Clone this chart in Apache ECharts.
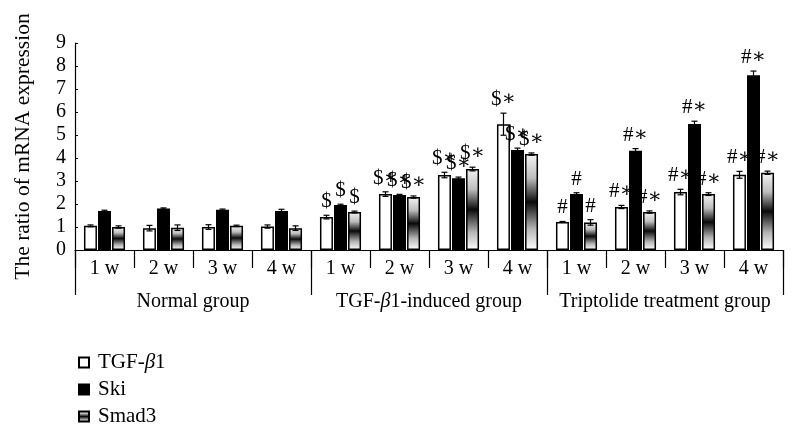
<!DOCTYPE html>
<html><head><meta charset="utf-8">
<script src="https://cdn.jsdelivr.net/npm/echarts@6/dist/echarts.min.js"></script>
<style>html,body{margin:0;padding:0;background:#fff}#c{width:797px;height:432px}</style>
</head><body><div id="c"></div>
<script>
var weeks = ['1 w','2 w','3 w','4 w','1 w','2 w','3 w','4 w','1 w','2 w','3 w','4 w'];
var groups = ['Normal group','TGF-β1-induced group','Triptolide treatment group'];
var seriesNames = ['TGF-β1','Ski','Smad3'];
var tgfVals  = [1.05,0.95,1.00,1.02, 1.43,2.43,3.26,5.47, 1.22,1.87,2.52,3.27];
var skiVals  = [1.70,1.80,1.75,1.70, 1.96,2.39,3.12,4.35, 2.43,4.32,5.48,7.60];
var smadVals = [1.00,0.97,1.05,0.95, 1.65,2.30,3.52,4.17, 1.20,1.65,2.43,3.36];
var tgfErr  = [0.04,0.12,0.10,0.07, 0.08,0.10,0.12,0.48, 0.02,0.07,0.12,0.15];
var skiErr  = [0.03,0.03,0.03,0.07, 0.03,0.03,0.05,0.08, 0.06,0.09,0.12,0.18];
var smadErr = [0.05,0.12,0.03,0.10, 0.04,0.05,0.08,0.05, 0.12,0.05,0.06,0.07];
var tgfMarks  = ['','','','', '$','$∗','$∗','$∗', '#','#∗','#∗','#∗'];
var skiMarks  = ['','','','', '$','$∗','$∗','$∗', '#','#∗','#∗','#∗'];
var smadMarks = ['','','','', '$','$∗','$∗','$∗', '#','#∗','#∗','#∗'];

var chart = echarts.init(document.getElementById('c'), null, {renderer:'canvas'});
var FONT = '"Liberation Serif", "DejaVu Serif", serif';
var BW = 13, GAP = 1;
var vals = [tgfVals, skiVals, smadVals];
var errs = [tgfErr, skiErr, smadErr];
var marks = [tgfMarks, skiMarks, smadMarks];

function errSeries(k){
  var data = vals[k].map(function(v,i){return [i, v, errs[k][i], marks[k][i]];});
  return {
    type:'custom', xAxisIndex:0, yAxisIndex:0, z:10, silent:true,
    data:data,
    encode:{x:0,y:1},
    renderItem:function(params, api){
      var i = api.value(0), v = api.value(1), e = api.value(2);
      var m = data[params.dataIndex][3];
      var off = (k-1)*(BW+GAP);
      var top = api.coord([i, v+e]);
      var bot = api.coord([i, v-e]);
      var x = top[0]+off;
      var cw = 3;
      var children = [
        {type:'line', shape:{x1:x,y1:top[1],x2:x,y2:bot[1]}, style:{stroke:'#000',lineWidth:1.2}},
        {type:'line', shape:{x1:x-cw,y1:top[1],x2:x+cw,y2:top[1]}, style:{stroke:'#000',lineWidth:1.2}},
        {type:'line', shape:{x1:x-cw,y1:bot[1],x2:x+cw,y2:bot[1]}, style:{stroke:'#000',lineWidth:1.2}}
      ];
      if(m){
        children.push({type:'text', style:{text:m, x:x, y:top[1]-3, align:'center', verticalAlign:'bottom',
          font:'21px '+FONT, fill:'#000'}});
      }
      return {type:'group', children:children};
    }
  };
}

var smadGrad = new echarts.graphic.LinearGradient(0,0,0,1,[
  {offset:0,color:'#f4f4f4'},{offset:0.25,color:'#bdbdbd'},{offset:0.5,color:'#0a0a0a'},
  {offset:0.78,color:'#b5b5b5'},{offset:1,color:'#ffffff'}]);

var option = {
  animation:false,
  textStyle:{fontFamily:FONT},
  grid:{left:75, right:14, top:43, bottom:182},
  legend:{
    orient:'vertical', left:73, top:347, itemWidth:10, itemHeight:10, itemGap:6, icon:'rect',
    data:seriesNames,
    textStyle:{fontFamily:FONT, fontSize:21, color:'#000', padding:[0,0,0,4],
      rich:{n:{fontFamily:FONT,fontSize:21,color:'#000'}, i:{fontFamily:FONT,fontSize:21,fontStyle:'italic',color:'#000'}}},
    formatter:function(n){ if(n==='TGF-β1') return '{n|TGF-}{i|β}{n|1}'; return '{n|'+n+'}'; }
  },
  xAxis:[
    {type:'category', data:weeks, position:'bottom',
      axisLine:{show:true, lineStyle:{color:'#000', width:1.2}},
      axisTick:{show:true, length:18, lineStyle:{color:'#000', width:1.2}},
      axisLabel:{color:'#000', fontFamily:FONT, fontSize:20, margin:9, interval:0}
    },
    {type:'category', data:groups, position:'bottom',
      axisLine:{show:false},
      axisTick:{show:true, length:45, lineStyle:{color:'#000', width:1.2}},
      axisLabel:{color:'#000', fontFamily:FONT, fontSize:20, margin:42, interval:0,
        formatter:function(n){ if(n.indexOf('β')>=0) return '{n|TGF-}{i|β}{n|1-induced group}'; return '{n|'+n+'}'; },
        rich:{n:{fontFamily:FONT,fontSize:20,color:'#000'}, i:{fontFamily:FONT,fontSize:20,fontStyle:'italic',color:'#000'}}
      }
    }
  ],
  yAxis:{type:'value', min:0, max:9, interval:1,
    name:'The ratio of mRNA expression', nameLocation:'middle', nameGap:41, nameRotate:90,
    nameTextStyle:{color:'#000', fontFamily:FONT, fontSize:21.5},
    axisLine:{show:true, lineStyle:{color:'#000', width:1.2}},
    axisTick:{show:true, inside:true, length:3, lineStyle:{color:'#000'}},
    axisLabel:{color:'#000', fontFamily:FONT, fontSize:20, margin:9},
    splitLine:{show:false}
  },
  series:[
    {name:'TGF-β1', type:'bar', data:tgfVals, barWidth:BW, barGap:'8%',
      itemStyle:{color:'#ffffff', borderColor:'#000', borderWidth:1.5}},
    {name:'Ski', type:'bar', data:skiVals, barWidth:BW, barGap:'8%',
      itemStyle:{color:'#000000', borderColor:'#000', borderWidth:1.5}},
    {name:'Smad3', type:'bar', data:smadVals, barWidth:BW, barGap:'8%',
      itemStyle:{color:smadGrad, borderColor:'#000', borderWidth:1.5}},
    errSeries(0), errSeries(1), errSeries(2)
  ]
};
chart.setOption(option);
</script></body></html>
